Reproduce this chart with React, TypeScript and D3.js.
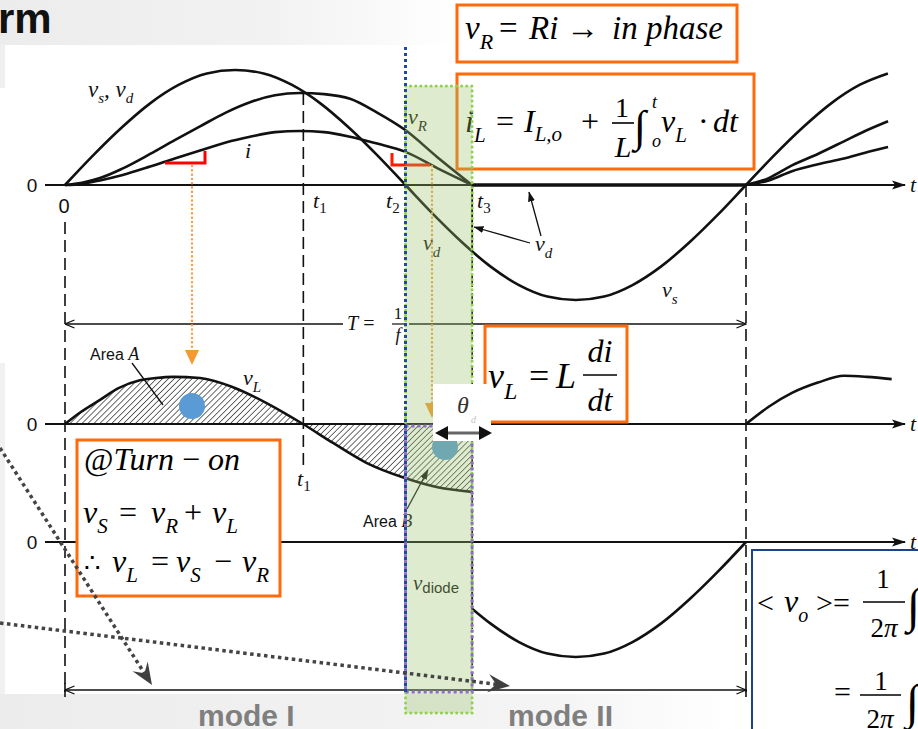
import React from 'react';
import * as d3 from 'd3';

const WIDTH = 918;
const HEIGHT = 729;

// ωt in degrees (one period = 360°); voltages / current in units of the source peak
const vsAngles = [0, 15, 30, 45, 60, 75, 90, 105, 120, 135, 150, 165, 180, 195, 210, 225, 240, 255, 270, 285, 300, 315, 330, 345, 360, 375, 390, 405, 420, 435];
const vsValues = [0, 0.26, 0.5, 0.71, 0.87, 0.97, 1, 0.97, 0.87, 0.71, 0.5, 0.26, 0, -0.26, -0.5, -0.71, -0.87, -0.97, -1, -0.97, -0.87, -0.71, -0.5, -0.26, 0, 0.26, 0.5, 0.71, 0.87, 0.97];

// conduction interval 0 → t3
const condAngles = [0, 9, 18.5, 30, 45, 58, 71.4, 85, 97.8, 111, 124.2, 137, 150.7, 165, 179.7, 197, 215.2];
const vrValues = [0, 0.02, 0.06, 0.14, 0.27, 0.39, 0.51, 0.63, 0.72, 0.78, 0.8, 0.79, 0.75, 0.63, 0.48, 0.24, 0];
const iValues = [0, 0.01, 0.04, 0.085, 0.16, 0.23, 0.3, 0.37, 0.42, 0.46, 0.47, 0.46, 0.42, 0.36, 0.29, 0.145, 0];

// start of the next period
const nextAngles = [360, 372, 384.3, 398, 411.8, 423, 435.1];
const vrNextValues = [0, 0.06, 0.17, 0.27, 0.38, 0.47, 0.555];
const iNextValues = [0, 0.04, 0.12, 0.18, 0.23, 0.28, 0.33];

const vlAngles = [0, 8, 18.5, 28, 39.6, 48, 57.1, 71.4, 88.8, 106.8, 125.8, 141.7, 159.6, 179.7, 197, 215.2];
const vlValues = [0, 0.1, 0.21, 0.31, 0.38, 0.4, 0.41, 0.4, 0.32, 0.18, 0, -0.165, -0.34, -0.47, -0.55, -0.59];
const vlNextAngles = [360, 372, 384.3, 398, 411.8, 424, 437];
const vlNextValues = [0, 0.15, 0.27, 0.36, 0.42, 0.41, 0.39];

const T1 = 126;
const T2 = 180;
const T3 = 215.2;
const PERIOD = 360;
const vsAtT3 = -0.58;

const SERIF = "'Liberation Serif', 'Times New Roman', serif";
const SANS = "'Liberation Sans', Arial, sans-serif";
const ORANGE = '#ff6a0a';

type Pt = [number, number];
const zip = (a: number[], v: number[]): Pt[] => a.map((t, i) => [t, v[i]] as Pt);

const x = d3.scaleLinear().domain([0, PERIOD]).range([65, 746]);
const AMP = 115;
const yTop = d3.scaleLinear().domain([-1, 1]).range([185 + AMP, 185 - AMP]);
const yMid = d3.scaleLinear().domain([-1, 1]).range([424 + AMP, 424 - AMP]);
const yBot = d3.scaleLinear().domain([-1, 1]).range([542 + AMP, 542 - AMP]);

const lineOn = (y: d3.ScaleLinear<number, number>) =>
  d3.line<Pt>().x(d => x(d[0])).y(d => y(d[1])).curve(d3.curveMonotoneX);

function notchedHead(x0: number, y0: number, x1: number, y1: number, len = 22, half = 9, notch = 14) {
  const dx = x1 - x0, dy = y1 - y0;
  const L = Math.hypot(dx, dy);
  const ux = dx / L, uy = dy / L, px = -uy, py = ux;
  const bx = x1 - ux * len, by = y1 - uy * len;
  const nx = x1 - ux * notch, ny = y1 - uy * notch;
  return {
    head: `M${x1},${y1} L${bx + px * half},${by + py * half} L${nx},${ny} L${bx - px * half},${by - py * half} Z`,
    end: [nx, ny] as Pt,
  };
}

function Var({ x: px, y: py, v, s, size = 22, subSize = 15, subItalic = true, fill = '#111' }:
  { x: number; y: number; v: string; s: string; size?: number; subSize?: number; subItalic?: boolean; fill?: string }) {
  return (
    <text x={px} y={py} fontFamily={SERIF} fontSize={size} fontStyle="italic" fill={fill}>
      {v}
      <tspan fontSize={subSize} dy={size * 0.3} fontStyle={subItalic ? 'italic' : 'normal'}>{s}</tspan>
    </text>
  );
}

function TLabel({ x: px, y: py, n }: { x: number; y: number; n: string }) {
  return (
    <text x={px} y={py} fontFamily={SERIF} fontSize={22} fontStyle="italic" fill="#111">
      t<tspan fontSize={15} dy={5} fontStyle="normal">{n}</tspan>
    </text>
  );
}

export default function App() {
  const vs = zip(vsAngles, vsValues);
  const vr = zip(condAngles, vrValues);
  const iC = zip(condAngles, iValues);
  const vrN = zip(nextAngles, vrNextValues);
  const iN = zip(nextAngles, iNextValues);
  const vl = zip(vlAngles, vlValues);
  const vlN = zip(vlNextAngles, vlNextValues);
  const vDiode: Pt[] = [[T3, vsAtT3], ...vs.filter(d => d[0] > T3 && d[0] <= PERIOD)];

  const topLine = lineOn(yTop);
  const midLine = lineOn(yMid);
  const botLine = lineOn(yBot);
  const hatchArea = d3.area<Pt>().x(d => x(d[0])).y0(yMid(0)).y1(d => yMid(d[1])).curve(d3.curveMonotoneX);

  const axisYs = [yTop(0), yMid(0), yBot(0)];
  const zeroLabels = ['0', '0', '0'];

  const arrowA = notchedHead(0, 448, 152, 685);
  const arrowB = notchedHead(0, 623, 510, 686);

  const bandX0 = x(T2);
  const bandX1 = x(T3);

  return (
    <svg width={WIDTH} height={HEIGHT} viewBox={`0 0 ${WIDTH} ${HEIGHT}`}
      style={{ position: 'absolute', left: 0, top: 0, display: 'block' }}>
      <defs>
        <linearGradient id="topGrad" x1="0" x2="1" y1="0" y2="0">
          <stop offset="0" stopColor="#ececec" />
          <stop offset="0.3" stopColor="#f2f2f2" />
          <stop offset="0.5" stopColor="#ffffff" />
        </linearGradient>
        <linearGradient id="botGrad" x1="0" x2="1" y1="0" y2="0">
          <stop offset="0" stopColor="#ececec" />
          <stop offset="0.6" stopColor="#f4f4f4" />
          <stop offset="0.8" stopColor="#ffffff" />
        </linearGradient>
        <pattern id="hatch" width="4.2" height="8" patternUnits="userSpaceOnUse" patternTransform="rotate(45)">
          <line x1="0" y1="0" x2="0" y2="8" stroke="#111" strokeWidth="1.25" />
        </pattern>
        <marker id="axisArrow" viewBox="0 -5 14 10" refX="13" refY="0" markerWidth="14" markerHeight="10"
          markerUnits="userSpaceOnUse" orient="auto">
          <path d="M0,-4.5 L14,0 L0,4.5 L3,0 Z" fill="#111" />
        </marker>
        <marker id="openArrow" viewBox="0 -5 11 10" refX="10.5" refY="0" markerWidth="11" markerHeight="10"
          markerUnits="userSpaceOnUse" orient="auto-start-reverse">
          <path d="M1,-4 L10.5,0 L1,4" fill="none" stroke="#111" strokeWidth="1.3" />
        </marker>
        <marker id="leadArrow" viewBox="0 -4 10 8" refX="9.5" refY="0" markerWidth="10" markerHeight="8"
          markerUnits="userSpaceOnUse" orient="auto">
          <path d="M0,-3.5 L10,0 L0,3.5 Z" fill="#111" />
        </marker>
      </defs>

      {/* page background */}
      <rect width={WIDTH} height={HEIGHT} fill="#fff" />
      <rect x={0} y={0} width={WIDTH} height={45} fill="url(#topGrad)" />
      <rect x={0} y={45} width={5} height={43} fill="#efefef" />
      <rect x={0} y={363} width={5} height={331} fill="#f1f1f1" />
      <rect x={0} y={694} width={WIDTH} height={35} fill="url(#botGrad)" />

      {/* dashed time markers */}
      <g stroke="#111" strokeWidth={1.6} strokeDasharray="12 6" fill="none">
        <line x1={x(0)} x2={x(0)} y1={222} y2={692} />
        <line x1={x(T1)} x2={x(T1)} y1={yTop(0.8)} y2={466} />
        <line x1={x(T3)} x2={x(T3)} y1={yTop(0)} y2={692} />
        <line x1={x(PERIOD)} x2={x(PERIOD)} y1={yTop(0)} y2={692} />
      </g>

      {/* time axes */}
      {axisYs.map((ay, k) => (
        <g key={k}>
          <line x1={45} x2={905} y1={ay} y2={ay} stroke="#111" strokeWidth={2} markerEnd="url(#axisArrow)" />
          <text x={32} y={ay + 7} textAnchor="middle" fontFamily={SANS} fontSize={19} fill="#111">{zeroLabels[k]}</text>
          <text x={910} y={ay + 7} fontFamily={SERIF} fontStyle="italic" fontSize={22} fill="#111">t</text>
        </g>
      ))}
      <text x={x(0) - 1} y={213} textAnchor="middle" fontFamily={SANS} fontSize={20} fill="#111">0</text>

      {/* period dimension lines */}
      <line x1={x(0)} x2={343} y1={324} y2={324} stroke="#111" strokeWidth={1.4} markerStart="url(#openArrow)" />
      <line x1={409} x2={x(PERIOD)} y1={324} y2={324} stroke="#111" strokeWidth={1.4} markerEnd="url(#openArrow)" />
      <text x={347} y={330} fontFamily={SERIF} fontSize={20} fill="#111"><tspan fontStyle="italic">T</tspan> =</text>
      <text x={398} y={319} textAnchor="middle" fontFamily={SERIF} fontSize={17} fill="#111">1</text>
      <line x1={392} x2={404} y1={324} y2={324} stroke="#111" strokeWidth={1.2} />
      <text x={398} y={341} textAnchor="middle" fontFamily={SERIF} fontStyle="italic" fontSize={18} fill="#111">f</text>

      <line x1={x(0)} x2={x(PERIOD)} y1={690} y2={690} stroke="#111" strokeWidth={1.4}
        markerStart="url(#openArrow)" markerEnd="url(#openArrow)" />
      <line x1={x(0)} x2={x(0)} y1={683} y2={697} stroke="#111" strokeWidth={1.6} />
      <line x1={x(PERIOD)} x2={x(PERIOD)} y1={683} y2={697} stroke="#111" strokeWidth={1.6} />

      {/* hatched areas A and B */}
      <path d={hatchArea(vl) ?? ''} fill="url(#hatch)" stroke="none" />

      {/* waveforms */}
      <g fill="none" stroke="#111" strokeWidth={2.6} strokeLinejoin="round">
        <path d={topLine(vs) ?? ''} />
        <path d={topLine(vr) ?? ''} />
        <path d={topLine(iC) ?? ''} />
        <path d={topLine(vrN) ?? ''} />
        <path d={topLine(iN) ?? ''} />
        <line x1={x(T3)} x2={x(PERIOD)} y1={yTop(0)} y2={yTop(0)} strokeWidth={3.6} />
        <line x1={x(T3)} x2={x(T3)} y1={yTop(0)} y2={yTop(vsAtT3)} strokeWidth={2} />
        <path d={midLine(vl) ?? ''} />
        <path d={midLine(vlN) ?? ''} />
        <path d={botLine(vDiode) ?? ''} />
        <line x1={x(T3)} x2={x(T3)} y1={yBot(0)} y2={yBot(vsAtT3)} strokeWidth={2} />
      </g>

      {/* waveform labels */}
      <text x={88} y={97} fontFamily={SERIF} fontSize={23} fontStyle="italic" fill="#111">
        v<tspan fontSize={15} dy={6}>s</tspan><tspan dy={-6}>, v</tspan><tspan fontSize={15} dy={6}>d</tspan>
      </text>
      <text x={245} y={158} fontFamily={SERIF} fontSize={22} fontStyle="italic" fill="#111">i</text>
      <Var x={408} y={124} v="v" s="R" />
      <Var x={423} y={250} v="v" s="d" />
      <Var x={535} y={251} v="v" s="d" />
      <Var x={662} y={297} v="v" s="s" />
      <Var x={243} y={385} v="v" s="L" />
      <text x={413} y={590} fontFamily={SERIF} fontSize={21} fontStyle="italic" fill="#111">
        v<tspan fontFamily={SANS} fontStyle="normal" fontSize={15} dy={3}>diode</tspan>
      </text>
      <TLabel x={313} y={208} n="1" />
      <TLabel x={386} y={208} n="2" />
      <TLabel x={477} y={208} n="3" />
      <TLabel x={297} y={486} n="1" />
      <text x={90} y={360} fontFamily={SANS} fontSize={16} fill="#111">Area <tspan fontFamily={SERIF} fontStyle="italic" fontSize={18}>A</tspan></text>
      <text x={363} y={527} fontFamily={SANS} fontSize={16} fill="#111">Area <tspan fontFamily={SERIF} fontStyle="italic" fontSize={18}>B</tspan></text>
      <line x1={132} y1={363} x2={163} y2={405} stroke="#111" strokeWidth={1.3} />
      <line x1={407} y1={509} x2={428} y2={470} stroke="#111" strokeWidth={1.3} markerEnd="url(#leadArrow)" />
      <line x1={541} y1={236} x2={529} y2={192} stroke="#111" strokeWidth={1.3} markerEnd="url(#leadArrow)" />
      <line x1={530} y1={243} x2={474} y2={227} stroke="#111" strokeWidth={1.3} markerEnd="url(#leadArrow)" />

      {/* slope markers and guide arrows */}
      <polyline points="165,163 205,163 205,151" fill="none" stroke="#ff0000" strokeWidth={3} />
      <polyline points="392,153 392,165 430,165" fill="none" stroke="#ff1a00" strokeWidth={3} />
      <g stroke="#f4a040" strokeWidth={2.4} strokeDasharray="0.1 4.2" strokeLinecap="round">
        <line x1={192} x2={192} y1={166} y2={350} />
        <line x1={432} x2={432} y1={166} y2={403} />
      </g>
      <path d="M185,350 L199,350 L192,365 Z" fill="#f59a30" />
      <path d="M425,403 L439,403 L432,418 Z" fill="#f59a30" />
      <circle cx={192} cy={406} r={13} fill="#5b9bd5" />
      <circle cx={445} cy={447} r={13} fill="#5b9bd5" />

      {/* v_R = R i */}
      <rect x={457} y={5} width={280} height={57} fill="#fff" stroke={ORANGE} strokeWidth={3} />
      <g fontFamily={SERIF} fontSize={33} fill="#000">
        <Var x={465} y={39} v="v" s="R" size={33} subSize={22} fill="#000" />
        <text x={499} y={39}>=</text>
        <text x={529} y={39} fontStyle="italic">Ri</text>
        <text x={566} y={39}>→</text>
        <text x={612} y={39} fontStyle="italic">in phase</text>
      </g>

      {/* i_L integral */}
      <rect x={457} y={74} width={297} height={95} fill="#fff" stroke={ORANGE} strokeWidth={3} />
      <g fontFamily={SERIF} fontSize={32} fill="#000">
        <Var x={465} y={132} v="i" s="L" size={32} subSize={21} fill="#000" />
        <text x={496} y={132}>=</text>
        <text x={524} y={132} fontStyle="italic">I<tspan fontSize={21} dy={9}>L,o</tspan></text>
        <text x={581} y={132}>+</text>
        <text x={622} y={117} textAnchor="middle" fontSize={28}>1</text>
        <line x1={612} x2={634} y1={123} y2={123} stroke="#000" strokeWidth={1.6} />
        <text x={623} y={157} textAnchor="middle" fontStyle="italic" fontSize={30}>L</text>
        <text x={634} y={141} fontSize={44}>∫</text>
        <text x={652} y={108} fontStyle="italic" fontSize={18}>t</text>
        <text x={652} y={147} fontStyle="italic" fontSize={18}>o</text>
        <Var x={661} y={132} v="v" s="L" size={32} subSize={21} fill="#000" />
        <text x={698} y={132}>·</text>
        <text x={713} y={132} fontStyle="italic">dt</text>
      </g>

      {/* v_L = L di/dt */}
      <rect x={485} y={326} width={142} height={96} fill="#fff" stroke={ORANGE} strokeWidth={3} />
      <g fontFamily={SERIF} fontSize={36} fill="#000">
        <Var x={488} y={388} v="v" s="L" size={36} subSize={24} fill="#000" />
        <text x={529} y={388}>=</text>
        <text x={556} y={388} fontStyle="italic">L</text>
        <text x={600} y={362} textAnchor="middle" fontStyle="italic" fontSize={32}>di</text>
        <line x1={583} x2={617} y1={375} y2={375} stroke="#000" strokeWidth={1.6} />
        <text x={600} y={411} textAnchor="middle" fontStyle="italic" fontSize={32}>dt</text>
      </g>

      {/* turn-on relations */}
      <rect x={77} y={440} width={203} height={156} fill="#fff" stroke={ORANGE} strokeWidth={3} />
      <g fontFamily={SERIF} fontSize={32} fill="#000">
        <text x={84} y={470}>@<tspan fontStyle="italic">Turn</tspan> − <tspan fontStyle="italic">on</tspan></text>
        <Var x={83} y={523} v="v" s="S" size={32} subSize={21} fill="#000" />
        <text x={119} y={523}>=</text>
        <Var x={151} y={523} v="v" s="R" size={32} subSize={21} fill="#000" />
        <text x={184} y={523}>+</text>
        <Var x={212} y={523} v="v" s="L" size={32} subSize={21} fill="#000" />
        <text x={84} y={572} fontSize={26}>∴</text>
        <Var x={112} y={572} v="v" s="L" size={32} subSize={21} fill="#000" />
        <text x={151} y={572}>=</text>
        <Var x={176} y={572} v="v" s="S" size={32} subSize={21} fill="#000" />
        <text x={214} y={572}>−</text>
        <Var x={242} y={572} v="v" s="R" size={32} subSize={21} fill="#000" />
      </g>

      {/* diode conduction band t2 → t3 */}
      <rect x={bandX0} y={86} width={bandX1 - bandX0} height={627} fill="#9bc36b" fillOpacity={0.33} />
      <rect x={bandX0} y={86} width={bandX1 - bandX0} height={627} fill="none" stroke="#92d050"
        strokeWidth={3} strokeDasharray="0.1 5" strokeLinecap="round" />
      <rect x={bandX0} y={yMid(0) + 2} width={bandX1 - bandX0} height={692 - yMid(0) - 2} fill="none"
        stroke="#8e6cc9" strokeWidth={3} strokeDasharray="3 3" />
      <line x1={bandX0} x2={bandX0} y1={47} y2={692} stroke="#1f4aa0" strokeWidth={3} strokeDasharray="3 3" />

      {/* extinction angle */}
      <rect x={433} y={384} width={58} height={57} fill="#fff" />
      <text x={457} y={413} fontFamily={SERIF} fontStyle="italic" fontSize={24} fill="#333">θ</text>
      <text x={471} y={423} fontFamily={SERIF} fontStyle="italic" fontSize={10} fill="#c4c4c4">d</text>
      <line x1={444} x2={482} y1={433} y2={433} stroke="#666" strokeWidth={3} />
      <path d="M435,433 L448,426 L448,440 Z" fill="#111" />
      <path d="M492,433 L479,426 L479,440 Z" fill="#111" />

      {/* mode pointers */}
      <g stroke="#444" strokeWidth={3.5} strokeDasharray="3.5 3.5" fill="none">
        <line x1={0} y1={448} x2={arrowA.end[0]} y2={arrowA.end[1]} />
        <line x1={0} y1={623} x2={arrowB.end[0]} y2={arrowB.end[1]} />
      </g>
      <path d={arrowA.head} fill="#404040" />
      <path d={arrowB.head} fill="#404040" />

      {/* average output voltage */}
      <rect x={752} y={550} width={180} height={190} fill="#fff" stroke="#1f3f8f" strokeWidth={2} />
      <g fontFamily={SERIF} fontSize={30} fill="#000">
        <text x={757} y={613}>&lt;</text>
        <Var x={784} y={612} v="v" s="o" size={32} subSize={20} fill="#000" />
        <text x={816} y={613}>&gt;=</text>
        <text x={883} y={588} textAnchor="middle" fontSize={27}>1</text>
        <line x1={863} x2={905} y1={602} y2={602} stroke="#000" strokeWidth={1.6} />
        <text x={884} y={637} textAnchor="middle" fontSize={27}>2<tspan fontStyle="italic">π</tspan></text>
        <text x={907} y={622} fontSize={48}>∫</text>
        <text x={834} y={702}>=</text>
        <text x={881} y={690} textAnchor="middle" fontSize={27}>1</text>
        <line x1={860} x2={901} y1={695} y2={695} stroke="#000" strokeWidth={1.6} />
        <text x={880} y={728} textAnchor="middle" fontSize={27}>2<tspan fontStyle="italic">π</tspan></text>
        <text x={906} y={718} fontSize={48}>∫</text>
      </g>

      {/* slide captions */}
      <text x={198} y={726} fontFamily={SANS} fontWeight="bold" fontSize={30} fill="#7f7f7f">mode I</text>
      <text x={508} y={726} fontFamily={SANS} fontWeight="bold" fontSize={30} fill="#7f7f7f">mode II</text>
      <text x={-2} y={33} fontFamily={SANS} fontWeight="bold" fontSize={42} fill="#111">rm</text>
    </svg>
  );
}
